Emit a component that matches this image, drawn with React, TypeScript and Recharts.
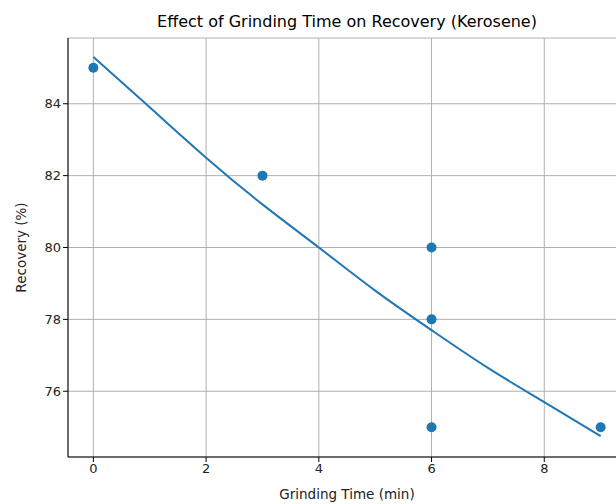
import React from 'react';
import {
  ComposedChart,
  Line,
  Scatter,
  XAxis,
  YAxis,
  CartesianGrid,
  Label,
} from 'recharts';

// measured points
const grindTime = [0, 3, 6, 6, 6, 9];
const recovery = [85, 82, 80, 78, 75, 75];

// fitted curve
const fitTime = [0, 1, 2, 3, 4, 5, 6, 7, 8, 9];
const fitRecovery = [85.3, 83.9, 82.5, 81.2, 80.0, 78.8, 77.7, 76.65, 75.7, 74.75];

const xTicks = [0, 2, 4, 6, 8];
const yTicks = [76, 78, 80, 82, 84];

const points = grindTime.map((x, i) => ({ x, y: recovery[i] }));
const fit = fitTime.map((x, i) => ({ x, y: fitRecovery[i] }));

const BLUE = '#1f77b4';
const FONT = '"DejaVu Sans", sans-serif';

const App: React.FC = () => {
  return (
    <div
      style={{
        position: 'absolute',
        left: 0,
        top: 0,
        width: 616,
        height: 504,
        overflow: 'hidden',
        background: '#fff',
        fontFamily: FONT,
      }}
    >
      <div
        style={{
          position: 'absolute',
          left: 68,
          width: 558,
          top: 12,
          textAlign: 'center',
          fontSize: 16,
          color: '#000',
        }}
      >
        Effect of Grinding Time on Recovery (Kerosene)
      </div>
      <ComposedChart
        width={640}
        height={504}
        margin={{ top: 38, right: 14, bottom: 7, left: 8 }}
        style={{ position: 'absolute', left: 0, top: 0 }}
      >
        <XAxis
          type="number"
          dataKey="x"
          domain={[-0.45, 9.45]}
          ticks={xTicks}
          allowDataOverflow
          height={40}
          stroke="#000"
          tickSize={5}
          tick={{ fontSize: 13, fill: '#222', fontFamily: FONT }}
        >
          <Label
            value="Grinding Time (min)"
            position="insideBottom"
            offset={-2}
            style={{ fontSize: 13.5, fill: '#222', fontFamily: FONT }}
          />
        </XAxis>
        <XAxis
          xAxisId="top"
          orientation="top"
          type="number"
          domain={[-0.45, 9.45]}
          height={0}
          tick={false}
          tickLine={false}
          stroke="#000"
        />
        <YAxis
          type="number"
          domain={[74.17, 85.83]}
          ticks={yTicks}
          allowDataOverflow
          width={60}
          stroke="#000"
          tickSize={5}
          tick={{ fontSize: 13, fill: '#222', fontFamily: FONT }}
        >
          <Label
            value="Recovery (%)"
            angle={-90}
            position="insideLeft"
            offset={13}
            style={{ fontSize: 13.5, fill: '#222', fontFamily: FONT, textAnchor: 'middle' }}
          />
        </YAxis>
        <YAxis
          yAxisId="right"
          orientation="right"
          width={0}
          tick={false}
          tickLine={false}
          stroke="#000"
        />
        <Scatter
          data={points}
          dataKey="y"
          fill={BLUE}
          shape={(props: any) => <circle cx={props.cx} cy={props.cy} r={5} fill={BLUE} />}
          isAnimationActive={false}
        />
        <CartesianGrid stroke="#b0b0b0" strokeWidth={1} />
        <Line
          data={fit}
          dataKey="y"
          type="natural"
          stroke={BLUE}
          strokeWidth={2}
          dot={false}
          activeDot={false}
          isAnimationActive={false}
        />
      </ComposedChart>
    </div>
  );
};

export default App;
